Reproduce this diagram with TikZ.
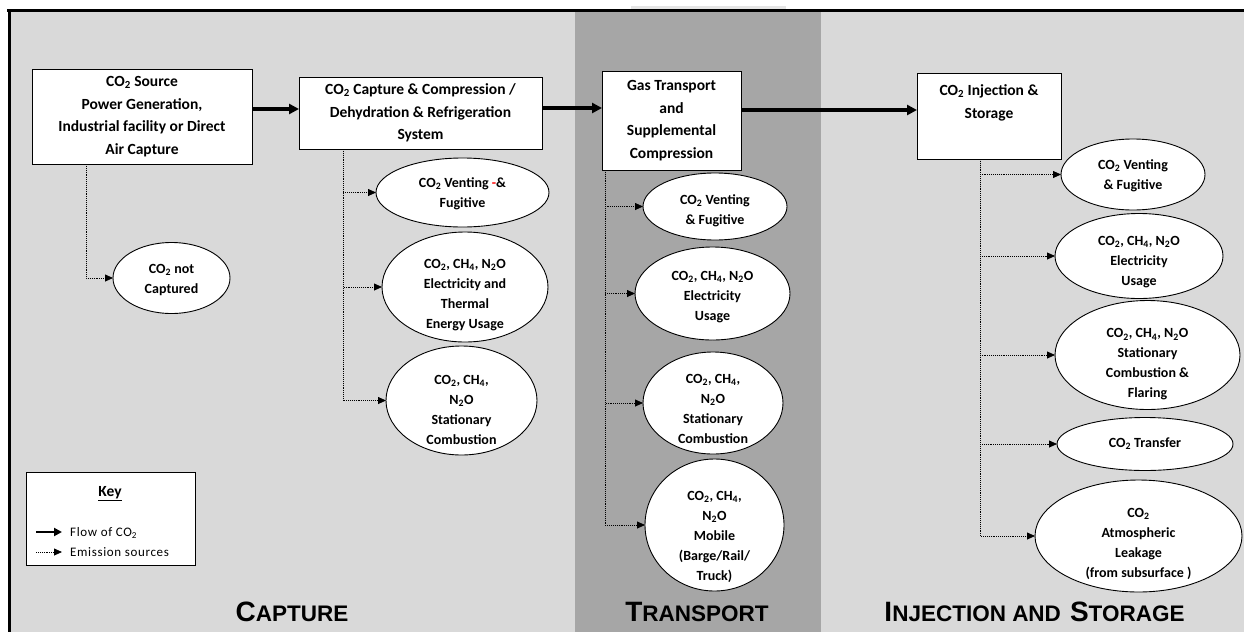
\documentclass[tikz,border=0pt]{standalone}
\usepackage{fontspec}
\setmainfont{Carlito}
\newfontfamily\titlefont{Liberation Sans}
\newfontfamily\keyfont[LetterSpace=5]{Carlito}
\usetikzlibrary{arrows.meta,shapes.geometric}
\definecolor{bglight}{HTML}{D9D9D9}
\definecolor{bgdark}{HTML}{A6A6A6}
\newcommand\sbs[1]{\textsubscript{#1}}
\newcommand\SCap[2]{{\fontsize{28}{30}\selectfont #1}{\fontsize{22.5}{30}\selectfont #2}}
\begin{document}
\begin{tikzpicture}[x=1pt,y=-1pt,
  box/.style={draw, fill=white, line width=0.9pt, align=center, inner sep=0pt, outer sep=0pt, font=\fontsize{15.5}{22.5}\selectfont\bfseries},
  oval/.style={ellipse, draw, fill=white, line width=0.9pt, inner sep=0pt, outer sep=0pt},
  otext/.style={align=center, inner sep=0pt, font=\fontsize{14}{20}\selectfont\bfseries},
  flow/.style={line width=3.2pt, -{Triangle[length=10pt,width=10pt]}},
  emis/.style={line width=0.8pt, dash pattern=on 0.8pt off 1.1pt, -{Triangle[length=8pt,width=7pt]}},
  title/.style={font=\titlefont\bfseries, inner sep=0pt}
]
\useasboundingbox (0,0) rectangle (1244,632);
% backgrounds
\fill[bglight] (11,12) rectangle (1244,632);
\fill[bgdark] (575,12) rectangle (821,632);
\fill[black!10] (631,6) rectangle (786,9);
\draw[line width=3.5pt] (7,10.5) -- (1244,10.5);
\draw[line width=3pt] (9.5,9) -- (9.5,632);

% main boxes
\node[box, minimum width=220pt, minimum height=95pt] (src) at (142,116.5) {CO\sbs2 Source\\Power Generation,\\Industrial facility or Direct\\Air Capture};
\node[box, minimum width=243pt, minimum height=72pt] (cap) at (420.5,113) {CO\sbs2 Capture \& Compression /\\Dehydration \& Refrigeration\\System};
\node[box, minimum width=139pt, minimum height=99pt] (trn) at (671.5,120.5) {Gas Transport\\and\\Supplemental\\Compression};
\node[box, minimum width=144pt, minimum height=86pt] (inj) at (989,116) {CO\sbs2 Injection \&\\Storage\\\strut};

% flow arrows
\coordinate (f1) at ([yshift=7.5pt]src.east);
\coordinate (f2) at ([yshift=5pt]cap.east);
\coordinate (f3) at ([yshift=10.5pt]trn.east);
\draw[flow] (f1) -- (f1 -| cap.west);
\draw[flow] (f2) -- (f2 -| trn.west);
\draw[flow] (f3) -- (f3 -| inj.west);

% ellipses: source
\node[oval, minimum width=117pt, minimum height=71pt] (nc) at (171.5,278) {};
\node[otext] (ncT) at (171.5,280) {CO\sbs2 not\\Captured};
% capture
\node[oval, minimum width=173pt, minimum height=69pt] (cv) at (462.5,192.5) {};
\node[otext] (cvT) at (462.5,194) {CO\sbs2 Venting {\color{red}-}\&\\Fugitive};
\node[oval, minimum width=166pt, minimum height=110pt] (ce) at (465,287) {};
\node[otext] (ceT) at (465,295) {CO\sbs2, CH\sbs4, N\sbs2O\\Electricity and\\Thermal\\Energy Usage};
\node[oval, minimum width=151pt, minimum height=109pt] (cs) at (461.5,400.5) {};
\node[otext] (csT) at (461.5,410) {CO\sbs2, CH\sbs4,\\N\sbs2O\\Stationary\\Combustion};
% transport
\node[oval, minimum width=144pt, minimum height=67pt] (tv) at (715,206.5) {};
\node[otext] (tvT) at (715,210.5) {CO\sbs2 Venting\\\& Fugitive};
\node[oval, minimum width=155pt, minimum height=93pt] (te) at (712.5,293.5) {};
\node[otext] (teT) at (712.5,297) {CO\sbs2, CH\sbs4, N\sbs2O\\Electricity\\Usage};
\node[oval, minimum width=140pt, minimum height=102pt] (ts) at (713,403) {};
\node[otext] (tsT) at (713,408.5) {CO\sbs2, CH\sbs4,\\N\sbs2O\\Stationary\\Combustion};
\node[oval, minimum width=139pt, minimum height=132pt] (tm) at (714.5,525) {};
\node[otext] (tmT) at (714.5,537) {CO\sbs2, CH\sbs4,\\N\sbs2O\\Mobile\\(Barge/Rail/\\Truck)};
% injection
\node[oval, minimum width=144pt, minimum height=71pt] (iv) at (1133,174.5) {};
\node[otext] (ivT) at (1133,176) {CO\sbs2 Venting\\\& Fugitive};
\node[oval, minimum width=168pt, minimum height=85pt] (ie) at (1139,256) {};
\node[otext] (ieT) at (1139,262) {CO\sbs2, CH\sbs4, N\sbs2O\\Electricity\\Usage};
\node[oval, minimum width=185pt, minimum height=109pt] (is) at (1147.5,355) {};
\node[otext] (isT) at (1147.5,364.5) {CO\sbs2, CH\sbs4, N\sbs2O\\Stationary\\Combustion \&\\Flaring};
\node[oval, minimum width=176pt, minimum height=53pt] (it) at (1145,444) {};
\node[otext] (itT) at (1145,444) {CO\sbs2 Transfer};
\node[oval, minimum width=207pt, minimum height=112pt] (il) at (1138.5,536) {};
\node[otext] (ilT) at (1138.5,543.5) {CO\sbs2\\Atmospheric\\Leakage\\(from subsurface )};

% emission connectors
\draw[emis] ([xshift=-56pt]src.south) |- (nc.west);
\draw[emis] ([xshift=-77.5pt]cap.south) |- (cv.west);
\draw[emis] ([xshift=-77.5pt]cap.south) |- (ce.west);
\draw[emis] ([xshift=-77.5pt]cap.south) |- (cs.west);
\draw[emis] ([xshift=-66.5pt]trn.south) |- (tv.west);
\draw[emis] ([xshift=-66.5pt]trn.south) |- (te.west);
\draw[emis] ([xshift=-66.5pt]trn.south) |- (ts.west);
\draw[emis] ([xshift=-66.5pt]trn.south) |- (tm.west);
\draw[emis] ([xshift=-9pt]inj.south) |- (iv.west);
\draw[emis] ([xshift=-9pt]inj.south) |- (ie.west);
\draw[emis] ([xshift=-9pt]inj.south) |- (is.west);
\draw[emis] ([xshift=-9pt]inj.south) |- (it.west);
\draw[emis] ([xshift=-9pt]inj.south) |- (il.west);

% key
\node[draw, fill=white, line width=0.9pt, minimum width=169pt, minimum height=93pt, inner sep=0pt] (key) at (110.5,518.5) {};
\node[font=\fontsize{15.5}{18}\selectfont\bfseries, inner sep=0pt] (keyT) at (110,494) {\underline{Key}};
\coordinate (k1a) at (36,532);
\coordinate (k1b) at (62,532);
\draw[line width=2.6pt, -{Triangle[length=8pt,width=8pt]}] (k1a) -- (k1b);
\node[anchor=west, inner sep=0pt, font=\keyfont\fontsize{13}{14}\selectfont] (k1t) at (70,533) {Flow of CO\sbs2};
\coordinate (k2a) at (36,552);
\coordinate (k2b) at (62,552);
\draw[emis] (k2a) -- (k2b);
\node[anchor=west, inner sep=0pt, font=\keyfont\fontsize{13}{14}\selectfont] (k2t) at (70,552) {Emission sources};

% section titles
\node[title] (tC) at (292,612) {\SCap{C}{APTURE}};
\node[title] (tT) at (697,612) {\SCap{T}{RANSPORT}};
\node[title] (tI) at (1034.5,612) {\SCap{I}{NJECTION AND}\hspace{9pt}\SCap{S}{TORAGE}};
\end{tikzpicture}
\end{document}
